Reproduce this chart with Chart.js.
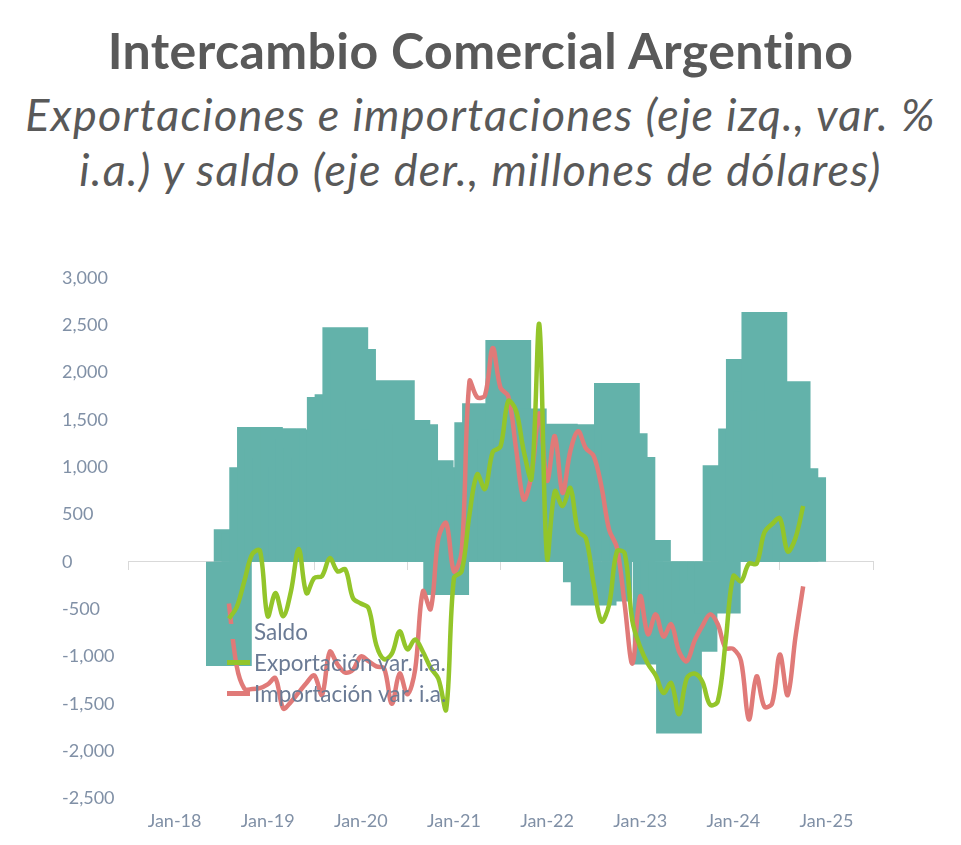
<!DOCTYPE html>
<html>
<head>
<meta charset="utf-8">
<script src="https://cdn.jsdelivr.net/npm/chart.js@4.4.1/dist/chart.umd.min.js"></script>
<style>
    body {
        margin: 0;
        width: 961px;
        height: 845px;
        background: #fff;
        position: relative;
        overflow: hidden;
        font-family: Lato, 'Open Sans', sans-serif;
        color: #595959;
    }
    .title {
        position: absolute;
        left: 0; right: 0;
        top: 21px;
        text-align: center;
        font-size: 50px;
        font-weight: bold;
        letter-spacing: 0.4px;
        line-height: 58px;
    }
    .subtitle {
        position: absolute;
        left: 0; right: 0;
        top: 87px;
        text-align: center;
        font-size: 45px;
        font-style: italic;
        letter-spacing: 1.3px;
        line-height: 55px;
    }
    .chart-wrap {
        position: absolute;
        left: 50px;
        top: 262px;
        width: 840px;
        height: 574px;
    }
    .legend {
        position: absolute;
        left: 227px;
        top: 616px;
        font-size: 22.5px;
        color: #6b7b95;
        line-height: 31px;
    }
    .legend-item {
        position: relative;
        padding-left: 27px;
        height: 31px;
        white-space: nowrap;
    }
    .swatch {
        position: absolute;
        left: 0;
    }
</style>
</head>
<body>
<div class="title">Intercambio Comercial Argentino</div>
<div class="subtitle">Exportaciones e importaciones (eje izq., var. %<br>i.a.) y saldo (eje der., millones de dólares)</div>
<div class="chart-wrap"><canvas id="tradeChart"></canvas></div>
<div class="legend">
    <div class="legend-item"><span class="swatch" style="top:8px;width:23px;height:15px;background:#63b2aa;"></span>Saldo</div>
    <div class="legend-item"><span class="swatch" style="top:13px;width:23px;height:5px;background:#93c52a;"></span>Exportación var. i.a.</div>
    <div class="legend-item"><span class="swatch" style="top:13px;width:23px;height:5px;background:#e07a78;"></span>Importación var. i.a.</div>
</div>

<script>
// months are counted from Jan-18 (0); series start at Aug-18
const firstMonth = 7;
const xMin = -6;
const xMax = 90;

const tickLabels = ['Jan-18', 'Jan-19', 'Jan-20', 'Jan-21', 'Jan-22', 'Jan-23', 'Jan-24', 'Jan-25'];

// Saldo (monthly, Aug-18 .. Oct-24)
const saldo = [
    -1100, 345, 300, 1000, 1424,
    1200, 1100, 1413, 1000, 1300, 1200, 1100, 1400, 1741, 1772, 2480, 2250,
    1300, 1700, 800, 1400, 1920, 1300, 1500, 1455, 900, 1075, 600, -350,
    1000, 900, 700, 1475, 1675, 1500, 1300, 2345, 1400, 1620, 1450, 1200,
    800, 1460, 900, 1100, 1455, -215, -460, -300, -420, 1890, 1360, 1107,
    150, 230, -1085, -800, -600, -1815, -700, -950, -300, -200, -545, 1020,
    800, 1410, 2145, 1800, 2640, 1600, 1700, 1910, 990, 895
];

// Exportación var. i.a.
const exportacion = [
    -600, -480, -200, 80, 120,
    -575, -330, -575, -310, 135, -330, -170, -150, 40, -100, -80, -385,
    -440, -490, -880, -1030, -970, -735, -925, -820, -950, -1120, -1235, -1560,
    -170, -100, 500, 925, 770, 1160, 1220, 1700, 1600, 1170, 880, 2510,
    40, 745, 590, 780, 325, 250, -230, -630, -450, 110, 90, -630,
    -900, -1080, -1200, -1385, -1280, -1610, -1230, -1180, -1265, -1510, -1475, -850,
    -150, -205, -20, -20, 310, 400, 460, 110, 250, 590
];

// Importación var. i.a.
const importacion = [
    -440, -1100, -1340, -1345, -1335,
    -1295, -1230, -1550, -1480, -1380, -1280, -1200, -1405, -950, -1085, -1170, -1140,
    -1000, -1050, -1105, -1125, -1500, -1180, -1400, -1140, -310, -500, 250, 410,
    -100, 110, 1910, 1740, 1760, 2260, 1840, 1750, 1200, 660, 925, 1570,
    855, 1330, 730, 1170, 1380, 1200, 1120, 800, 340, 150, -450, -1075,
    -365, -765, -555, -790, -660, -945, -1050, -835, -680, -555, -660, -910,
    -920, -1050, -1665, -1210, -1530, -1495, -980, -1410, -800, -260
];

function toPoints(values) {
    return values.map((v, i) => ({ x: firstMonth + i, y: v }));
}

const axisColor = '#8090a6';
const axisFont = { family: 'Lato', size: 18 };

document.addEventListener('DOMContentLoaded', function () {
    const ctx = document.getElementById('tradeChart').getContext('2d');
    new Chart(ctx, {
        type: 'bar',
        data: {
            datasets: [
                {
                    type: 'line',
                    label: 'Exportación var. i.a.',
                    data: toPoints(exportacion),
                    borderColor: '#93c52a',
                    borderWidth: 4.5,
                    pointRadius: 0,
                    tension: 0.35,
                    fill: false,
                    order: 1
                },
                {
                    type: 'line',
                    label: 'Importación var. i.a.',
                    data: toPoints(importacion),
                    borderColor: '#e07a78',
                    borderWidth: 4.5,
                    pointRadius: 0,
                    tension: 0.35,
                    fill: false,
                    order: 2
                },
                {
                    type: 'bar',
                    label: 'Saldo',
                    data: toPoints(saldo),
                    backgroundColor: '#63b2aa',
                    borderWidth: 0,
                    // Excel-style wide columns that overlap their neighbours
                    barPercentage: 5.9,
                    categoryPercentage: 1,
                    order: 3
                }
            ]
        },
        options: {
            responsive: true,
            maintainAspectRatio: false,
            animation: false,
            layout: {
                padding: { left: 12, right: 17, top: 16, bottom: 0 }
            },
            plugins: {
                legend: { display: false },
                tooltip: { enabled: false }
            },
            scales: {
                x: {
                    type: 'linear',
                    position: { y: 0 },
                    min: xMin,
                    max: xMax,
                    offset: false,
                    ticks: { stepSize: 6, display: false },
                    grid: {
                        offset: false,
                        drawOnChartArea: false,
                        drawTicks: true,
                        tickLength: 8,
                        color: (c) => (c.tick && c.tick.value % 12 !== 0) ? '#d9d9d9' : 'rgba(0,0,0,0)'
                    },
                    border: { display: true, color: '#d9d9d9', width: 1 }
                },
                x2: {
                    type: 'linear',
                    position: 'bottom',
                    min: xMin,
                    max: xMax,
                    offset: false,
                    ticks: {
                        stepSize: 6,
                        autoSkip: false,
                        maxRotation: 0,
                        minRotation: 0,
                        padding: 4,
                        color: axisColor,
                        font: axisFont,
                        callback: (v) => (v % 12 === 0 && v >= 0) ? tickLabels[v / 12] : ''
                    },
                    grid: { display: false },
                    border: { display: false }
                },
                y: {
                    min: -2500,
                    max: 3000,
                    ticks: {
                        stepSize: 500,
                        crossAlign: 'far',
                        color: axisColor,
                        font: axisFont,
                        callback: (v) => v.toLocaleString('en-US')
                    },
                    grid: { display: false },
                    border: { display: false },
                    afterFit: (scale) => { scale.width = 66; }
                }
            }
        }
    });
});
</script>
</body>
</html>
